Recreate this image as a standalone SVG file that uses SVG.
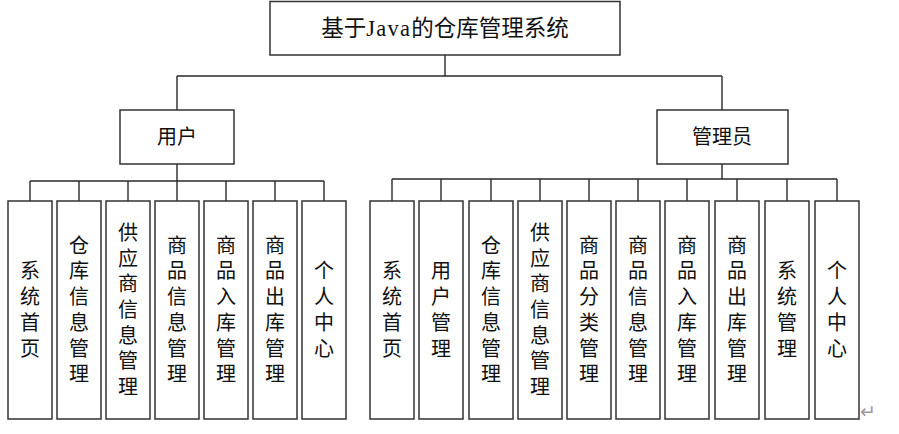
<svg xmlns="http://www.w3.org/2000/svg" width="899" height="434" viewBox="0 0 899 434">
<style>
.box{fill:#fff;stroke:#333;stroke-width:1.5}
.ln{fill:none;stroke:#2a2a2a;stroke-width:1.4}
.t{font-family:"Liberation Serif","Noto Sans CJK SC",serif;font-size:20px;fill:#111;text-anchor:middle}
.v{font-family:"Noto Sans CJK SC",sans-serif;font-size:20px;fill:#111;text-anchor:middle;writing-mode:vertical-rl;letter-spacing:5.7px}
</style>
<rect width="899" height="434" fill="#fff"/>
<g id="connectors">
<path class="ln" d="M445 55V76M177 76H722M177 76V110M722 76V110"/>
<path class="ln" d="M177 164V181M30 181H324M30 181V201M79 181V201M128 181V201M177 181V201M226 181V201M275 181V201M324 181V201"/>
<path class="ln" d="M722 164V179M392 179H837M392 179V201M441 179V201M491 179V201M540 179V201M589 179V201M638 179V201M687 179V201M737 179V201M787 179V201M837 179V201"/>
</g>
<g id="root"><rect class="box" x="270" y="1.5" width="350" height="53.5"/><text class="t" x="445" y="36.4" style="font-size:22.5px">基于<tspan style="letter-spacing:1.3px">Java</tspan>的仓库管理系统</text></g>
<g id="user"><rect class="box" x="120" y="110" width="114" height="54"/><text class="t" x="177" y="144.4">用户</text></g>
<g id="admin"><rect class="box" x="657" y="110" width="131" height="54"/><text class="t" x="722" y="144.4">管理员</text></g>
<g id="u1"><rect class="box" x="8" y="201" width="44" height="218"/><text class="v" x="30" y="312.3">系统首页</text></g>
<g id="u2"><rect class="box" x="57" y="201" width="44" height="218"/><text class="v" x="79" y="312.3">仓库信息管理</text></g>
<g id="u3"><rect class="box" x="106" y="201" width="44" height="218"/><text class="v" x="128" y="312.3">供应商信息管理</text></g>
<g id="u4"><rect class="box" x="155" y="201" width="44" height="218"/><text class="v" x="177" y="312.3">商品信息管理</text></g>
<g id="u5"><rect class="box" x="204" y="201" width="44" height="218"/><text class="v" x="226" y="312.3">商品入库管理</text></g>
<g id="u6"><rect class="box" x="253" y="201" width="44" height="218"/><text class="v" x="275" y="312.3">商品出库管理</text></g>
<g id="u7"><rect class="box" x="302" y="201" width="44" height="218"/><text class="v" x="324" y="312.3">个人中心</text></g>
<g id="a1"><rect class="box" x="370" y="201" width="44" height="218"/><text class="v" x="392" y="312.3">系统首页</text></g>
<g id="a2"><rect class="box" x="419" y="201" width="44" height="218"/><text class="v" x="441" y="312.3">用户管理</text></g>
<g id="a3"><rect class="box" x="469" y="201" width="44" height="218"/><text class="v" x="491" y="312.3">仓库信息管理</text></g>
<g id="a4"><rect class="box" x="518" y="201" width="44" height="218"/><text class="v" x="540" y="312.3">供应商信息管理</text></g>
<g id="a5"><rect class="box" x="567" y="201" width="44" height="218"/><text class="v" x="589" y="312.3">商品分类管理</text></g>
<g id="a6"><rect class="box" x="616" y="201" width="44" height="218"/><text class="v" x="638" y="312.3">商品信息管理</text></g>
<g id="a7"><rect class="box" x="665" y="201" width="44" height="218"/><text class="v" x="687" y="312.3">商品入库管理</text></g>
<g id="a8"><rect class="box" x="715" y="201" width="44" height="218"/><text class="v" x="737" y="312.3">商品出库管理</text></g>
<g id="a9"><rect class="box" x="765" y="201" width="44" height="218"/><text class="v" x="787" y="312.3">系统管理</text></g>
<g id="a10"><rect class="box" x="815" y="201" width="44" height="218"/><text class="v" x="837" y="312.3">个人中心</text></g>
<text x="860" y="418" style="font-family:'DejaVu Sans',sans-serif;font-size:19px;fill:#9a9a9a">↵</text>
</svg>
